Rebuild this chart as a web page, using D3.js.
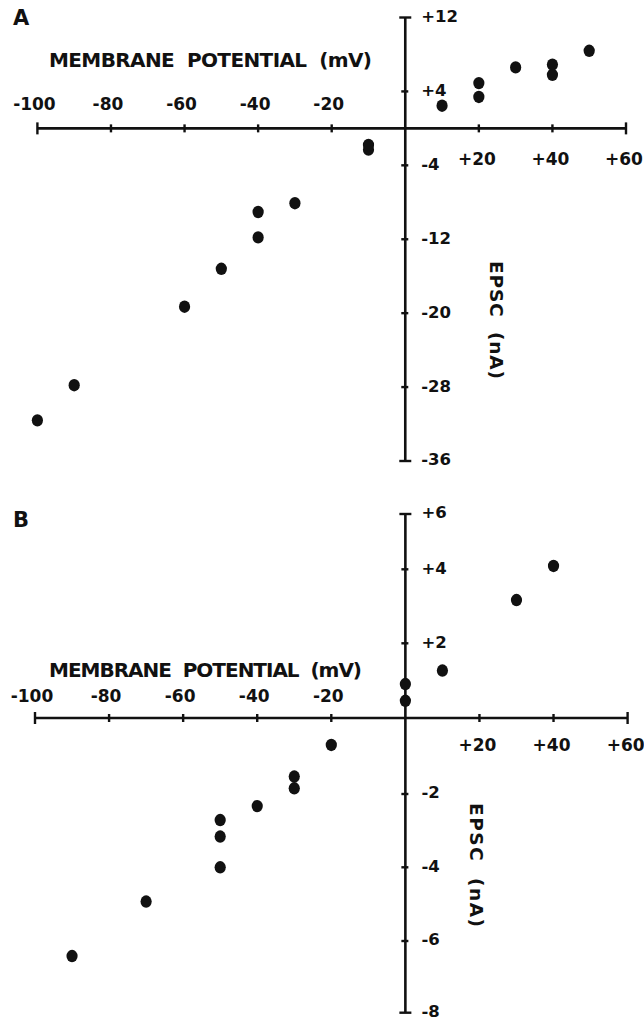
<!DOCTYPE html>
<html>
<head>
<meta charset="utf-8">
<script src="https://cdn.jsdelivr.net/npm/d3@7/dist/d3.min.js"></script>
<style>
  html, body { margin: 0; padding: 0; background: #fff; }
  svg { display: block; }
  text { font-family: "DejaVu Sans", sans-serif; font-weight: bold; fill: #111; }
</style>
</head>
<body>
<script>
// ---- data ----
const xTicks = [-100, -80, -60, -40, -20, 0, 20, 40, 60];
const xTickLabels = ["-100", "-80", "-60", "-40", "-20", "", "+20", "+40", "+60"];

// Panel A
const yTicksA = [12, 4, -4, -12, -20, -28, -36];
const yTickLabelsA = ["+12", "+4", "-4", "-12", "-20", "-28", "-36"];
const potentialA = [-100, -90, -60, -50, -40, -40, -30, -10, -10, 10, 20, 20, 30, 40, 40, 50];
const epscA = [-31.6, -27.8, -19.3, -15.2, -11.8, -9.05, -8.1, -2.3, -1.8, 2.45, 3.4, 4.9, 6.6, 5.8, 6.9, 8.4];

// Panel B
const yTicksB = [6, 4, 2, -2, -4, -6, -8];
const yTickLabelsB = ["+6", "+4", "+2", "-2", "-4", "-6", "-8"];
const potentialB = [-90, -70, -50, -50, -50, -40, -30, -30, -20, 0, 0, 10, 30, 40];
const epscB = [-6.42, -4.93, -4.0, -3.16, -2.71, -2.33, -1.85, -1.54, -0.71, 0.46, 0.91, 1.27, 3.17, 4.12];

const xTitle = "MEMBRANE  POTENTIAL  (mV)";
const yTitle = "EPSC  (nA)";

// ---- drawing ----
const W = 644, H = 1021;
const svg = d3.select("body").append("svg").attr("width", W).attr("height", H);

function panel(cfg) {
  const g = svg.append("g");
  const x = cfg.x, y = cfg.y;
  const y0 = y(0), x0 = x(0);
  const ink = "#111";

  // x axis line
  const [xmin, xmax] = x.domain();
  g.append("line").attr("x1", x(xmin)).attr("x2", x(xmax)).attr("y1", y0).attr("y2", y0)
    .attr("stroke", ink).attr("stroke-width", 2.6);
  // x ticks
  g.selectAll(".xt").data(xTicks.filter(d => d !== 0)).join("line")
    .attr("x1", d => x(d)).attr("x2", d => x(d))
    .attr("y1", d => (d === xmin || d === xmax) ? y0 - 6 : y0 - 4)
    .attr("y2", d => (d === xmin || d === xmax) ? y0 + 6 : y0 + 4)
    .attr("stroke", ink).attr("stroke-width", 2.4);
  // x tick labels
  g.selectAll(".xl").data(xTicks.map((d, i) => ({ v: d, t: xTickLabels[i] })).filter(d => d.t !== "")).join("text")
    .attr("x", d => x(d.v) - (d.v < 0 ? 3 : 2))
    .attr("y", d => d.v < 0 ? cfg.negLabelY : cfg.posLabelY)
    .attr("text-anchor", "middle").attr("font-size", 17)
    .text(d => d.t);

  // y axis
  const yd = cfg.yTicks;
  const ytop = d3.max(yd), ybot = d3.min(yd);
  g.append("line").attr("x1", x0).attr("x2", x0).attr("y1", y(ytop)).attr("y2", y(ybot))
    .attr("stroke", ink).attr("stroke-width", 2.6);
  g.selectAll(".yt").data(yd).join("line")
    .attr("x1", d => (d === ytop || d === ybot) ? x0 - 6 : x0 - 4)
    .attr("x2", d => (d === ytop || d === ybot) ? x0 + 6 : x0 + 3)
    .attr("y1", d => y(d)).attr("y2", d => y(d))
    .attr("stroke", ink).attr("stroke-width", 2.4);
  g.selectAll(".yl").data(yd.map((d, i) => ({ v: d, t: cfg.yLabels[i] }))).join("text")
    .attr("x", x0 + 16).attr("y", d => y(d.v)).attr("dy", "0.27em")
    .attr("font-size", 16.5)
    .text(d => d.t);

  // dots
  g.selectAll(".dot").data(cfg.xs.map((d, i) => [d, cfg.ys[i]])).join("ellipse")
    .attr("cx", d => x(d[0])).attr("cy", d => y(d[1]))
    .attr("rx", 5.6).attr("ry", 6.2).attr("fill", ink);

  // panel letter
  g.append("text").attr("x", 13).attr("y", cfg.letterY).attr("font-size", 21).text(cfg.letter);

  // x title
  g.append("text").attr("x", 49).attr("y", cfg.titleY).attr("font-size", 20)
    .attr("textLength", cfg.titleW).attr("lengthAdjust", "spacing")
    .style("white-space", "pre").text(xTitle);

  // y title (rotated)
  g.append("text")
    .attr("transform", `translate(${cfg.yTitleX},${cfg.yTitleY}) rotate(90)`)
    .attr("text-anchor", "middle").attr("dy", "0.36em").attr("font-size", 18.5)
    .attr("textLength", cfg.yTitleW).attr("lengthAdjust", "spacing")
    .style("white-space", "pre").text(yTitle);
}

panel({
  x: d3.scaleLinear().domain([-100, 60]).range([37.4, 626]),
  y: d3.scaleLinear().domain([-36, 12]).range([461, 17.5]),
  yTicks: yTicksA, yLabels: yTickLabelsA,
  xs: potentialA, ys: epscA,
  negLabelY: 110, posLabelY: 165,
  letter: "A", letterY: 25,
  titleY: 67, titleW: 323,
  yTitleX: 497, yTitleY: 320, yTitleW: 118
});

panel({
  x: d3.scaleLinear().domain([-100, 60]).range([35, 627.6]),
  y: d3.scaleLinear().domain([-8, -6, -4, -2, 0, 2, 4, 6]).range([1012.7, 941, 867.3, 794, 718, 643.3, 569.3, 514]),
  yTicks: yTicksB, yLabels: yTickLabelsB,
  xs: potentialB, ys: epscB,
  negLabelY: 702, posLabelY: 751,
  letter: "B", letterY: 527,
  titleY: 677, titleW: 313,
  yTitleX: 477, yTitleY: 865, yTitleW: 124
});
</script>
</body>
</html>
